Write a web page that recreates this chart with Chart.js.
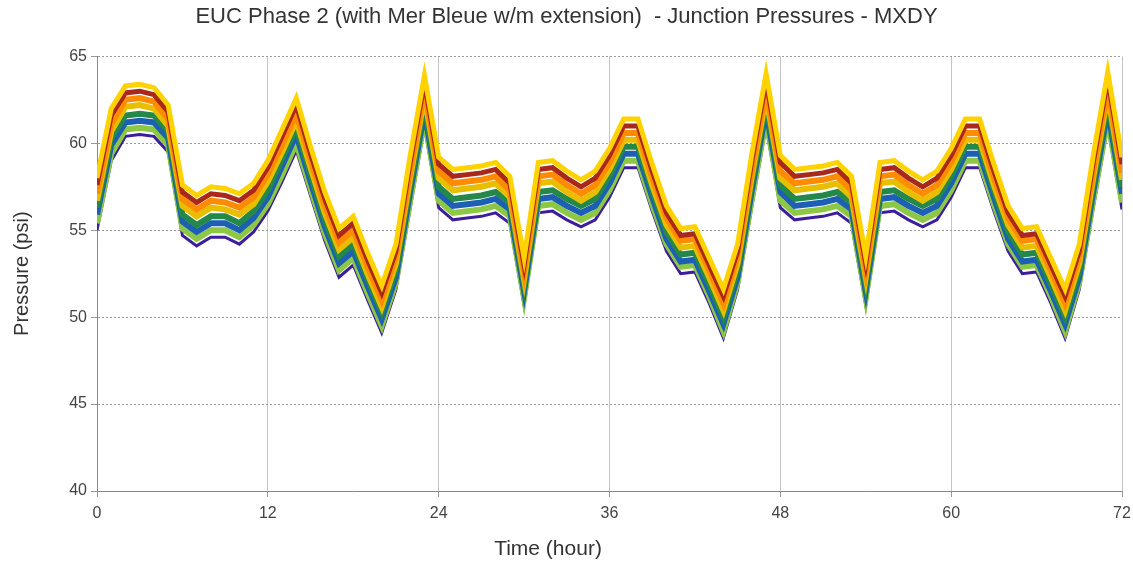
<!DOCTYPE html>
<html><head><meta charset="utf-8">
<script src="https://cdn.jsdelivr.net/npm/chart.js@4/dist/chart.umd.min.js"></script>
<style>html,body{margin:0;padding:0;background:#fff}#wrap{width:1133px;height:565px}</style>
</head><body><div id="wrap"><canvas id="c" width="1133" height="565"></canvas></div>
<script>
const hours = Array.from({length: 73}, (_, i) => i);
const xTicks = [0, 12, 24, 36, 48, 60, 72];
const yTicks = [40, 45, 50, 55, 60, 65];
const titleText = 'EUC Phase 2 (with Mer Bleue w/m extension)  - Junction Pressures - MXDY';

const junctionTop = [58.0,62.0,63.3,63.4,63.2,62.2,57.6,57.0,57.5,57.4,57.1,57.7,59.0,60.8,62.6,59.8,57.2,55.1,55.8,53.7,51.8,54.2,59.3,63.9,
 59.2,58.5,58.6,58.7,58.9,58.1,53.4,58.9,59.0,58.4,57.9,58.4,59.7,61.4,61.4,58.8,56.4,55.1,55.2,53.4,51.6,54.2,59.4,64.0,
 59.3,58.5,58.6,58.7,58.9,58.1,53.5,58.9,59.0,58.4,57.9,58.4,59.7,61.4,61.4,58.8,56.4,55.1,55.2,53.4,51.6,54.2,59.4,64.1,59.2];
const junctionA = [57.6,61.6,62.9,63.0,62.8,61.8,57.2,56.6,57.1,57.0,56.7,57.3,58.6,60.4,62.2,59.4,56.8,54.7,55.4,53.3,51.4,53.8,58.9,63.5,
 58.8,58.1,58.2,58.3,58.5,57.7,53.0,58.5,58.6,58.0,57.5,58.0,59.3,61.0,61.0,58.4,56.0,54.7,54.8,53.0,51.2,53.8,59.0,63.6,
 58.9,58.1,58.2,58.3,58.5,57.7,53.1,58.5,58.6,58.0,57.5,58.0,59.3,61.0,61.0,58.4,56.0,54.7,54.8,53.0,51.2,53.8,59.0,63.7,58.8];
const junctionB = [57.1,61.1,62.5,62.6,62.4,61.4,56.8,56.2,56.7,56.6,56.3,56.9,58.2,59.9,61.7,59.0,56.4,54.3,55.0,52.9,51.0,53.5,58.4,63.1,
 58.4,57.7,57.8,57.9,58.1,57.3,52.6,58.1,58.2,57.6,57.1,57.6,58.9,60.6,60.6,58.0,55.7,54.4,54.5,52.7,50.8,53.5,58.5,63.1,
 58.4,57.7,57.8,57.9,58.1,57.3,52.7,58.1,58.2,57.6,57.1,57.6,58.9,60.6,60.6,58.0,55.7,54.4,54.5,52.7,50.8,53.5,58.5,63.2,58.3];
const junctionC = [56.7,60.7,62.1,62.2,62.0,61.0,56.4,55.8,56.3,56.2,55.9,56.5,57.8,59.5,61.3,58.6,56.0,53.9,54.6,52.5,50.6,53.1,58.0,62.7,
 58.0,57.3,57.4,57.5,57.7,56.9,52.2,57.7,57.8,57.2,56.7,57.2,58.5,60.2,60.2,57.6,55.3,54.0,54.1,52.3,50.4,53.1,58.1,62.7,
 58.0,57.3,57.4,57.5,57.7,56.9,52.3,57.7,57.8,57.2,56.7,57.2,58.5,60.2,60.2,57.6,55.3,54.0,54.1,52.3,50.4,53.1,58.1,62.8,57.9];
const junctionD = [56.3,60.3,61.6,61.7,61.6,60.7,55.9,55.3,55.8,55.8,55.4,56.1,57.3,59.1,60.9,58.2,55.6,53.5,54.2,52.2,50.3,52.7,57.6,62.2,
 57.5,56.8,56.9,57.0,57.2,56.6,51.9,57.2,57.3,56.8,56.4,56.8,58.1,59.8,59.8,57.3,54.9,53.6,53.7,51.9,50.0,52.7,57.7,62.3,
 57.6,56.8,56.9,57.0,57.2,56.6,51.9,57.2,57.3,56.8,56.4,56.8,58.1,59.8,59.8,57.3,54.9,53.6,53.7,51.9,50.0,52.7,57.7,62.3,57.5];
const junctionE = [55.9,59.9,61.2,61.3,61.2,60.3,55.5,54.9,55.4,55.4,55.0,55.7,56.9,58.7,60.5,57.8,55.2,53.1,53.8,51.8,49.9,52.3,57.2,61.8,
 57.1,56.4,56.5,56.6,56.8,56.2,51.5,56.8,56.9,56.4,56.0,56.4,57.7,59.4,59.4,56.9,54.5,53.2,53.3,51.5,49.6,52.3,57.3,61.9,
 57.2,56.4,56.5,56.6,56.8,56.2,51.5,56.8,56.9,56.4,56.0,56.4,57.7,59.4,59.4,56.9,54.5,53.2,53.3,51.5,49.6,52.3,57.3,61.9,57.1];
const junctionF = [55.4,59.4,60.8,60.9,60.8,59.9,55.1,54.5,55.0,55.0,54.6,55.3,56.5,58.2,60.0,57.4,54.8,52.7,53.4,51.4,49.5,52.0,56.7,61.4,
 56.7,56.0,56.1,56.2,56.4,55.8,51.1,56.4,56.5,56.0,55.6,56.0,57.3,59.0,59.0,56.5,54.2,52.9,53.0,51.2,49.2,52.0,56.8,61.4,
 56.7,56.0,56.1,56.2,56.4,55.8,51.1,56.4,56.5,56.0,55.6,56.0,57.3,59.0,59.0,56.5,54.2,52.9,53.0,51.2,49.2,52.0,56.8,61.4,56.6];
const junctionBottom = [55.0,59.0,60.4,60.5,60.4,59.5,54.7,54.1,54.6,54.6,54.2,54.9,56.1,57.8,59.6,57.0,54.4,52.3,53.0,51.0,49.1,51.6,56.3,61.0,
 56.3,55.6,55.7,55.8,56.0,55.4,50.7,56.0,56.1,55.6,55.2,55.6,56.9,58.6,58.6,56.1,53.8,52.5,52.6,50.8,48.8,51.6,56.4,61.0,
 56.3,55.6,55.7,55.8,56.0,55.4,50.7,56.0,56.1,55.6,55.2,55.6,56.9,58.6,58.6,56.1,53.8,52.5,52.6,50.8,48.8,51.6,56.4,61.0,56.2];

const seriesList = [junctionTop, junctionA, junctionB, junctionC, junctionD, junctionE, junctionF, junctionBottom];
const seriesColors = ['#FFD200', '#A8281C', '#FF8C00', '#E9BE00', '#23884A', '#1C5FB4', '#8CC846', '#3C1E9C'];
const seriesWidths = [5, 5, 6, 6, 6, 6, 6, 3];

const datasets = seriesList.map((arr, k) => ({
  data: hours.map((h, i) => ({x: h, y: arr[i]})),
  borderColor: seriesColors[k],
  borderWidth: seriesWidths[k],
  pointRadius: 0,
  tension: 0,
  fill: false
}));

const FONT = '"Liberation Sans", Arial, sans-serif';

const xTitlePlugin = {
  id: 'xTitle',
  afterDraw(chart) {
    const ctx = chart.ctx;
    ctx.save();
    ctx.font = '21px ' + FONT;
    ctx.fillStyle = '#333';
    ctx.textAlign = 'center';
    ctx.textBaseline = 'middle';
    ctx.fillText('Time (hour)', 548, 549);
    ctx.restore();
  }
};

new Chart(document.getElementById('c'), {
  type: 'line',
  data: { datasets },
  plugins: [xTitlePlugin],
  options: {
    responsive: false,
    animation: false,
    events: [],
    layout: { padding: { left: 0, right: 0, top: 0, bottom: 0 } },
    plugins: {
      legend: { display: false },
      tooltip: { enabled: false },
      title: {
        display: true, text: titleText,
        color: '#333',
        font: { family: FONT, size: 22, weight: 'normal' },
        padding: { top: 4, bottom: 26 }
      }
    },
    scales: {
      x: {
        type: 'linear', min: 0, max: 72,
        afterBuildTicks: s => { s.ticks = xTicks.map(v => ({value: v})); },
        afterFit: s => { s.height = 74; s.paddingRight = 11; s.paddingLeft = 0; },
        ticks: { color: '#444', font: { family: FONT, size: 16 }, padding: 7, maxRotation: 0 },
        grid: { color: '#c4c4c4', lineWidth: 1, tickLength: 6, tickColor: '#999' },
        border: { display: true, color: '#888', width: 1 }
      },
      y: {
        min: 40, max: 65,
        afterBuildTicks: s => { s.ticks = yTicks.map(v => ({value: v})); },
        afterFit: s => { s.width = 97; },
        ticks: { color: '#444', font: { family: FONT, size: 16 }, padding: 4 },
        grid: { color: '#9a9a9a', lineWidth: 1, tickLength: 6, tickColor: '#999' },
        border: { display: true, color: '#888', width: 1, dash: [2, 2] },
        title: { display: true, text: 'Pressure (psi)', color: '#333',
          font: { family: FONT, size: 20 }, padding: { top: 10, bottom: 20 } }
      }
    }
  }
});
</script>
</body></html>
